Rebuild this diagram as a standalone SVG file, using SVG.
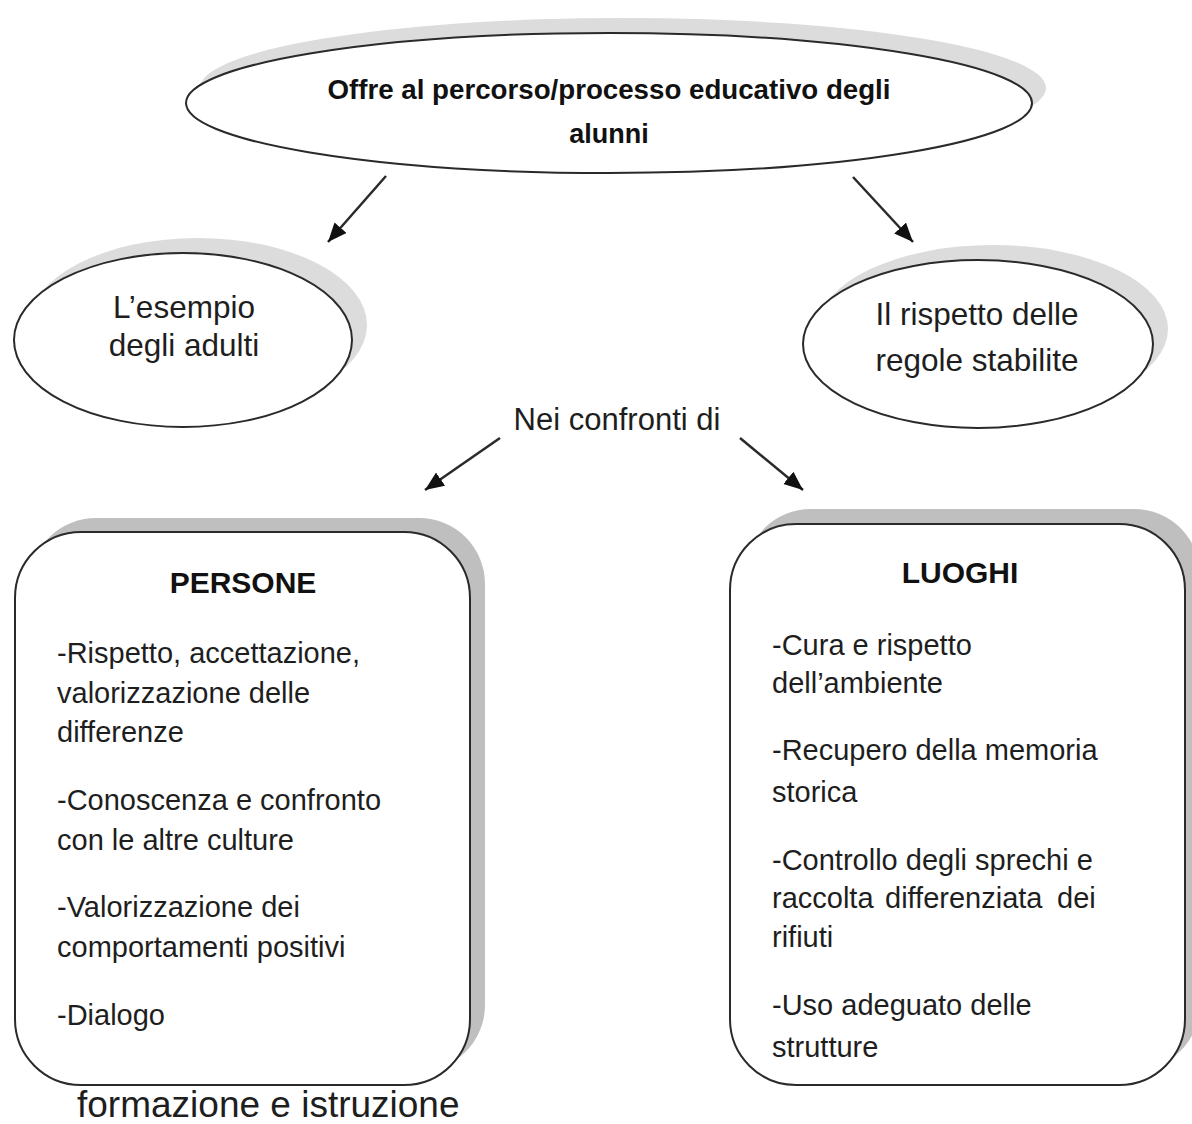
<svg xmlns="http://www.w3.org/2000/svg" width="1192" height="1124" viewBox="0 0 1192 1124">
  <style>
    .shape { fill: #ffffff; stroke: #2a2a2a; stroke-width: 2; }
    .eshadow { fill: #dcdcdc; }
    .bshadow { fill: #bfbfbf; }
    .txt { font-family: "Liberation Sans", Arial, sans-serif; fill: #1e1e1e; }
    .title { font-family: "Liberation Sans", Arial, sans-serif; font-weight: bold; fill: #111111; }
    .conn { stroke: #2a2a2a; stroke-width: 2.5; fill: none; }
  </style>
  <defs>
    <marker id="arrow" markerUnits="userSpaceOnUse" markerWidth="22" markerHeight="18" refX="19" refY="8" orient="auto">
      <path d="M0,0 L19,8 L0,16 z" fill="#111111"/>
    </marker>
  </defs>

  <rect x="0" y="0" width="1192" height="1124" fill="#ffffff"/>

  <!-- top concept -->
  <g id="node-offre">
    <ellipse class="eshadow" cx="623" cy="88" rx="423" ry="70"/>
    <ellipse class="shape" cx="609" cy="103" rx="423" ry="70"/>
    <text class="title" x="609" y="99" font-size="27" text-anchor="middle" textLength="563" lengthAdjust="spacingAndGlyphs">Offre al percorso/processo educativo degli</text>
    <text class="title" x="609" y="143" font-size="27" text-anchor="middle">alunni</text>
  </g>

  <!-- left ellipse -->
  <g id="node-esempio">
    <ellipse class="eshadow" cx="198" cy="325" rx="169" ry="87"/>
    <ellipse class="shape" cx="183" cy="340" rx="169" ry="87"/>
    <text class="txt" x="184" y="318" font-size="31.5" text-anchor="middle">L’esempio</text>
    <text class="txt" x="184" y="356" font-size="31.5" text-anchor="middle">degli adulti</text>
  </g>

  <!-- right ellipse -->
  <g id="node-regole">
    <ellipse class="eshadow" cx="993" cy="329" rx="175" ry="84"/>
    <ellipse class="shape" cx="978" cy="344" rx="175" ry="84"/>
    <text class="txt" x="977" y="325" font-size="31.5" text-anchor="middle">Il rispetto delle</text>
    <text class="txt" x="977" y="371" font-size="31.5" text-anchor="middle">regole stabilite</text>
  </g>

  <!-- connector label -->
  <g id="node-nei">
    <text class="txt" x="617" y="430" font-size="31" text-anchor="middle">Nei confronti di</text>
  </g>

  <!-- PERSONE box -->
  <g id="node-persone">
    <rect class="bshadow" x="30" y="518" width="455" height="553" rx="66" ry="66"/>
    <rect class="shape" x="15" y="532" width="455" height="553" rx="66" ry="66"/>
    <text class="title" x="243" y="593" font-size="30" text-anchor="middle">PERSONE</text>
    <text class="txt" font-size="29">
      <tspan x="57" y="663">-Rispetto, accettazione,</tspan>
      <tspan x="57" y="703">valorizzazione delle</tspan>
      <tspan x="57" y="742">differenze</tspan>
      <tspan x="57" y="810">-Conoscenza e confronto</tspan>
      <tspan x="57" y="850">con le altre culture</tspan>
      <tspan x="57" y="917">-Valorizzazione dei</tspan>
      <tspan x="57" y="957">comportamenti positivi</tspan>
      <tspan x="57" y="1025">-Dialogo</tspan>
    </text>
  </g>

  <!-- LUOGHI box -->
  <g id="node-luoghi">
    <rect class="bshadow" x="745" y="509" width="455" height="561" rx="66" ry="66"/>
    <rect class="shape" x="730" y="524" width="455" height="561" rx="66" ry="66"/>
    <text class="title" x="960" y="583" font-size="30" text-anchor="middle">LUOGHI</text>
    <text class="txt" font-size="29">
      <tspan x="772" y="655">-Cura e rispetto</tspan>
      <tspan x="772" y="693">dell’ambiente</tspan>
      <tspan x="772" y="760">-Recupero della memoria</tspan>
      <tspan x="772" y="802">storica</tspan>
      <tspan x="772" y="870">-Controllo degli sprechi e</tspan>
      <tspan x="772" y="908">raccolta</tspan><tspan x="885" y="908">differenziata</tspan><tspan x="1057" y="908">dei</tspan>
      <tspan x="772" y="947">rifiuti</tspan>
      <tspan x="772" y="1015">-Uso adeguato delle</tspan>
      <tspan x="772" y="1057">strutture</tspan>
    </text>
  </g>

  <!-- footer line -->
  <g id="node-footer">
    <text class="txt" x="77" y="1117" font-size="37" fill="#000000">formazione e istruzione</text>
  </g>

  <!-- connectors -->
  <g id="connectors">
    <line class="conn" x1="386" y1="176" x2="328" y2="242" marker-end="url(#arrow)"/>
    <line class="conn" x1="853" y1="177" x2="913" y2="242" marker-end="url(#arrow)"/>
    <line class="conn" x1="500" y1="438" x2="425" y2="490" marker-end="url(#arrow)"/>
    <line class="conn" x1="740" y1="438" x2="803" y2="490" marker-end="url(#arrow)"/>
  </g>
</svg>
